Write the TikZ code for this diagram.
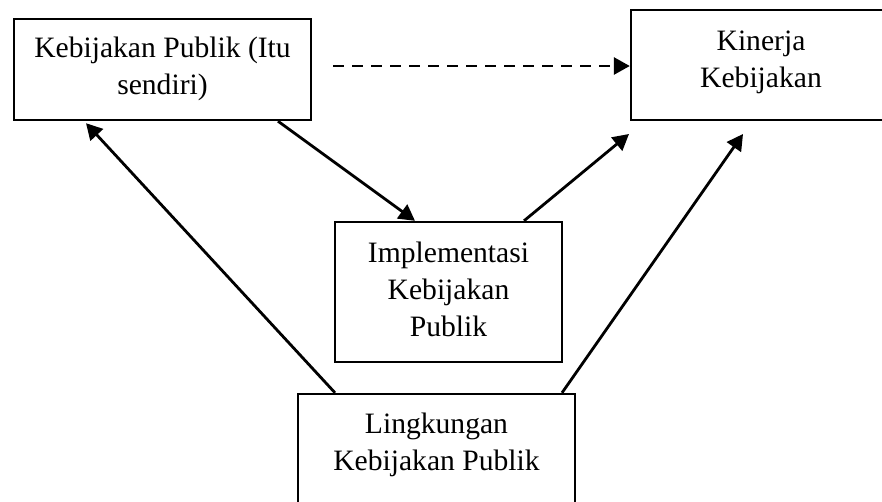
\documentclass[tikz,border=0pt]{standalone}
\usepackage{fontspec}
\setmainfont{Liberation Serif}
\usetikzlibrary{arrows.meta}
\begin{document}
\begin{tikzpicture}[x=1pt,y=-1pt,
  box/.style={draw, line width=2.4pt, inner sep=0pt},
  lbl/.style={anchor=base, inner sep=0pt, text width=#1, align=flush center, font=\fontsize{29.6}{37}\selectfont},
  arr/.style={draw, line width=2.8pt, -{Triangle[length=16pt,width=17pt]}}]
\useasboundingbox (0,0) rectangle (882,501);
\clip (0,0) rectangle (882,501);

\node[box, minimum width=297pt, minimum height=101pt] (publik) at (162.5,69.5) {};
\node[box, minimum width=260pt, minimum height=110pt] (kinerja) at (761,65) {};
\node[box, minimum width=227pt, minimum height=140pt] (impl) at (448.5,292) {};
\node[box, minimum width=277pt, minimum height=140pt] (ling) at (436.5,464) {};

\node[lbl=285pt] (publik text) at (162.5,57) {Kebijakan Publik (Itu\\sendiri)};
\node[lbl=240pt] (kinerja text) at (761,50) {Kinerja\\Kebijakan};
\node[lbl=215pt] (impl text) at (448.5,262) {Implementasi\\Kebijakan\\Publik};
\node[lbl=265pt] (ling text) at (436.5,433) {Lingkungan\\Kebijakan Publik};

\coordinate (dash start) at (333,66);
\coordinate (tip a) at (629,134);
\coordinate (tip b) at (743,134);

\path[arr, dash pattern=on 11pt off 8pt] (dash start) -- ([yshift=-1pt]kinerja.west);
\path[arr] ([xshift=115.5pt]publik.south) -- ([xshift=-33.5pt]impl.north);
\path[arr] ([xshift=75.5pt]impl.north) -- (tip a);
\path[arr] ([xshift=125.5pt]ling.north) -- (tip b);
\path[arr] ([xshift=-101.5pt]ling.north) -- ([xshift=-76.5pt,yshift=-2pt]publik.south);
\end{tikzpicture}
\end{document}
